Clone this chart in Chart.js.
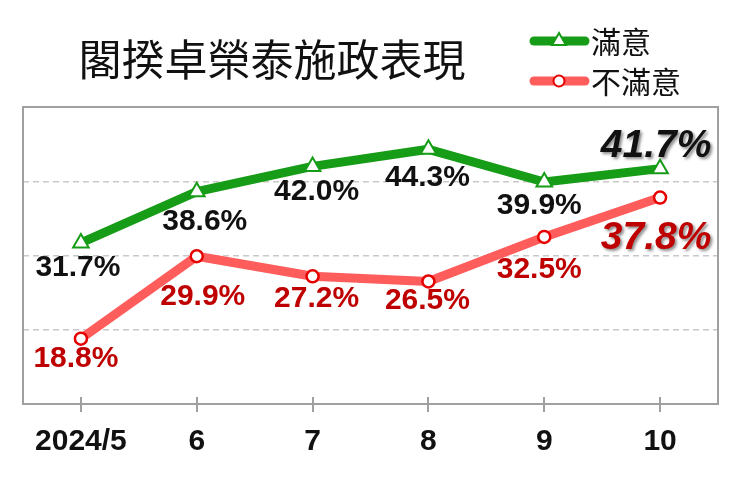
<!DOCTYPE html>
<html>
<head>
<meta charset="utf-8">
<script src="https://cdn.jsdelivr.net/npm/chart.js@4"></script>
<style>
  html, body { margin: 0; padding: 0; background: #fff; }
  #wrap { width: 744px; height: 479px; }
</style>
</head>
<body>
<div id="wrap"><canvas id="chart" width="744" height="479"></canvas></div>
<script>
// data
const chartTitle = "閣揆卓榮泰施政表現";
const months = ["2024/5", "6", "7", "8", "9", "10"];
const satisfied = [31.7, 38.6, 42.0, 44.3, 39.9, 41.7];
const dissatisfied = [18.8, 29.9, 27.2, 26.5, 32.5, 37.8];
const seriesNames = ["滿意", "不滿意"];
const yMin = 10, yMax = 50, yStep = 10;

// where each value label sits relative to its point (dx, dy)
const greenLabelOffsets = [[-3, 25], [8, 30], [4, 25], [-1, 28], [-5, 24], [-4, -22]];
const redLabelOffsets = [[-5, 20], [6, 40], [4, 22], [-1, 19], [-5, 33], [-4, 41]];

const GREEN = "#179c17";
const RED_LINE = "#ff5c5c";
const RED_MARK = "#e60000";
const RED_TEXT = "#bf0000";
const NUM_FONT = '"Liberation Sans", Arial, sans-serif';
const CJK_FONT = '"Noto Sans CJK TC", "Noto Sans", sans-serif';

// frame box + tick marks crossing the bottom edge
const framePlugin = {
    id: "frame",
    afterDraw(chart) {
        const { ctx, chartArea } = chart;
        const xs = chart.scales.x;
        ctx.save();
        ctx.strokeStyle = "#a0a0a0";
        ctx.lineWidth = 2;
        ctx.strokeRect(chartArea.left, chartArea.top,
            chartArea.right - chartArea.left, chartArea.bottom - chartArea.top);
        ctx.beginPath();
        xs.ticks.forEach((t, i) => {
            const x = Math.round(xs.getPixelForTick(i));
            ctx.moveTo(x, chartArea.bottom - 7);
            ctx.lineTo(x, chartArea.bottom + 8);
        });
        ctx.stroke();
        ctx.restore();
    }
};

// value labels
const labelPlugin = {
    id: "valueLabels",
    afterDatasetsDraw(chart) {
        const { ctx } = chart;
        const sets = [
            { idx: 0, offsets: greenLabelOffsets, color: "#111" },
            { idx: 1, offsets: redLabelOffsets, color: RED_TEXT }
        ];
        ctx.save();
        ctx.textAlign = "center";
        ctx.textBaseline = "middle";
        sets.forEach((s) => {
            const meta = chart.getDatasetMeta(s.idx);
            const values = chart.data.datasets[s.idx].data;
            meta.data.forEach((pt, i) => {
                const last = i === values.length - 1;
                const txt = values[i].toFixed(1) + "%";
                const x = pt.x + s.offsets[i][0];
                const y = pt.y + s.offsets[i][1];
                if (last) {
                    ctx.font = "italic bold 39px " + NUM_FONT;
                    ctx.shadowColor = "rgba(0,0,0,0.45)";
                    ctx.shadowBlur = 3;
                    ctx.shadowOffsetX = 2;
                    ctx.shadowOffsetY = 2;
                } else {
                    ctx.font = "bold 30px " + NUM_FONT;
                    ctx.shadowColor = "transparent";
                }
                ctx.fillStyle = s.color;
                ctx.fillText(txt, x, y);
            });
        });
        ctx.restore();
    }
};

// title and legend drawn at their places on the page
const headerPlugin = {
    id: "header",
    afterDraw(chart) {
        const { ctx } = chart;
        ctx.save();
        ctx.fillStyle = "#111";
        ctx.textAlign = "center";
        ctx.textBaseline = "middle";
        ctx.font = "43px " + CJK_FONT;
        ctx.fillText(chartTitle, 272, 60);

        const items = [
            { y: 41, line: GREEN, mark: GREEN, style: "triangle", r: 8 },
            { y: 81, line: RED_LINE, mark: RED_MARK, style: "circle", r: 5.5 }
        ];
        items.forEach((it, i) => {
            ctx.strokeStyle = it.line;
            ctx.lineWidth = 9;
            ctx.lineCap = "round";
            ctx.beginPath();
            ctx.moveTo(534, it.y);
            ctx.lineTo(585, it.y);
            ctx.stroke();
            ctx.fillStyle = "#fff";
            ctx.strokeStyle = it.mark;
            ctx.lineWidth = 2;
            Chart.helpers.drawPoint(ctx, { pointStyle: it.style, radius: it.r, rotation: 0, borderWidth: 2 }, 559, it.y);
            ctx.fillStyle = "#111";
            ctx.textAlign = "left";
            ctx.font = "30px " + CJK_FONT;
            ctx.fillText(seriesNames[i], 591, it.y + 1);
        });
        ctx.restore();
    }
};

new Chart(document.getElementById("chart"), {
    type: "line",
    data: {
        labels: months,
        datasets: [
            {
                label: seriesNames[0],
                data: satisfied,
                borderColor: GREEN,
                borderWidth: 9,
                borderCapStyle: "round",
                borderJoinStyle: "round",
                pointStyle: "triangle",
                pointRadius: 9,
                pointBackgroundColor: "#fff",
                pointBorderColor: GREEN,
                pointBorderWidth: 2,
                tension: 0
            },
            {
                label: seriesNames[1],
                data: dissatisfied,
                borderColor: RED_LINE,
                borderWidth: 9,
                borderCapStyle: "round",
                borderJoinStyle: "round",
                pointStyle: "circle",
                pointRadius: 6,
                pointBackgroundColor: "#fff",
                pointBorderColor: RED_MARK,
                pointBorderWidth: 2.5,
                tension: 0
            }
        ]
    },
    options: {
        responsive: false,
        animation: false,
        layout: { padding: { left: 23, right: 26, top: 107, bottom: 0 } },
        plugins: {
            legend: { display: false },
            title: { display: false },
            tooltip: { enabled: false }
        },
        scales: {
            x: {
                offset: true,
                grid: { display: false, drawTicks: false },
                border: { display: false },
                ticks: {
                    padding: 20,
                    color: "#111",
                    font: { family: NUM_FONT, size: 30, weight: "bold" }
                },
                afterFit(scale) { scale.height = 75; }
            },
            y: {
                min: yMin,
                max: yMax,
                ticks: { display: false, stepSize: yStep },
                grid: {
                    drawTicks: false,
                    lineWidth: 1.5,
                    color: (c) => (c.tick && (c.tick.value === yMin || c.tick.value === yMax)) ? "rgba(0,0,0,0)" : "#c9c9c9"
                },
                border: { display: false, dash: [6, 4] },
                afterFit(scale) { scale.width = 0; }
            }
        }
    },
    plugins: [framePlugin, labelPlugin, headerPlugin]
});
</script>
</body>
</html>
